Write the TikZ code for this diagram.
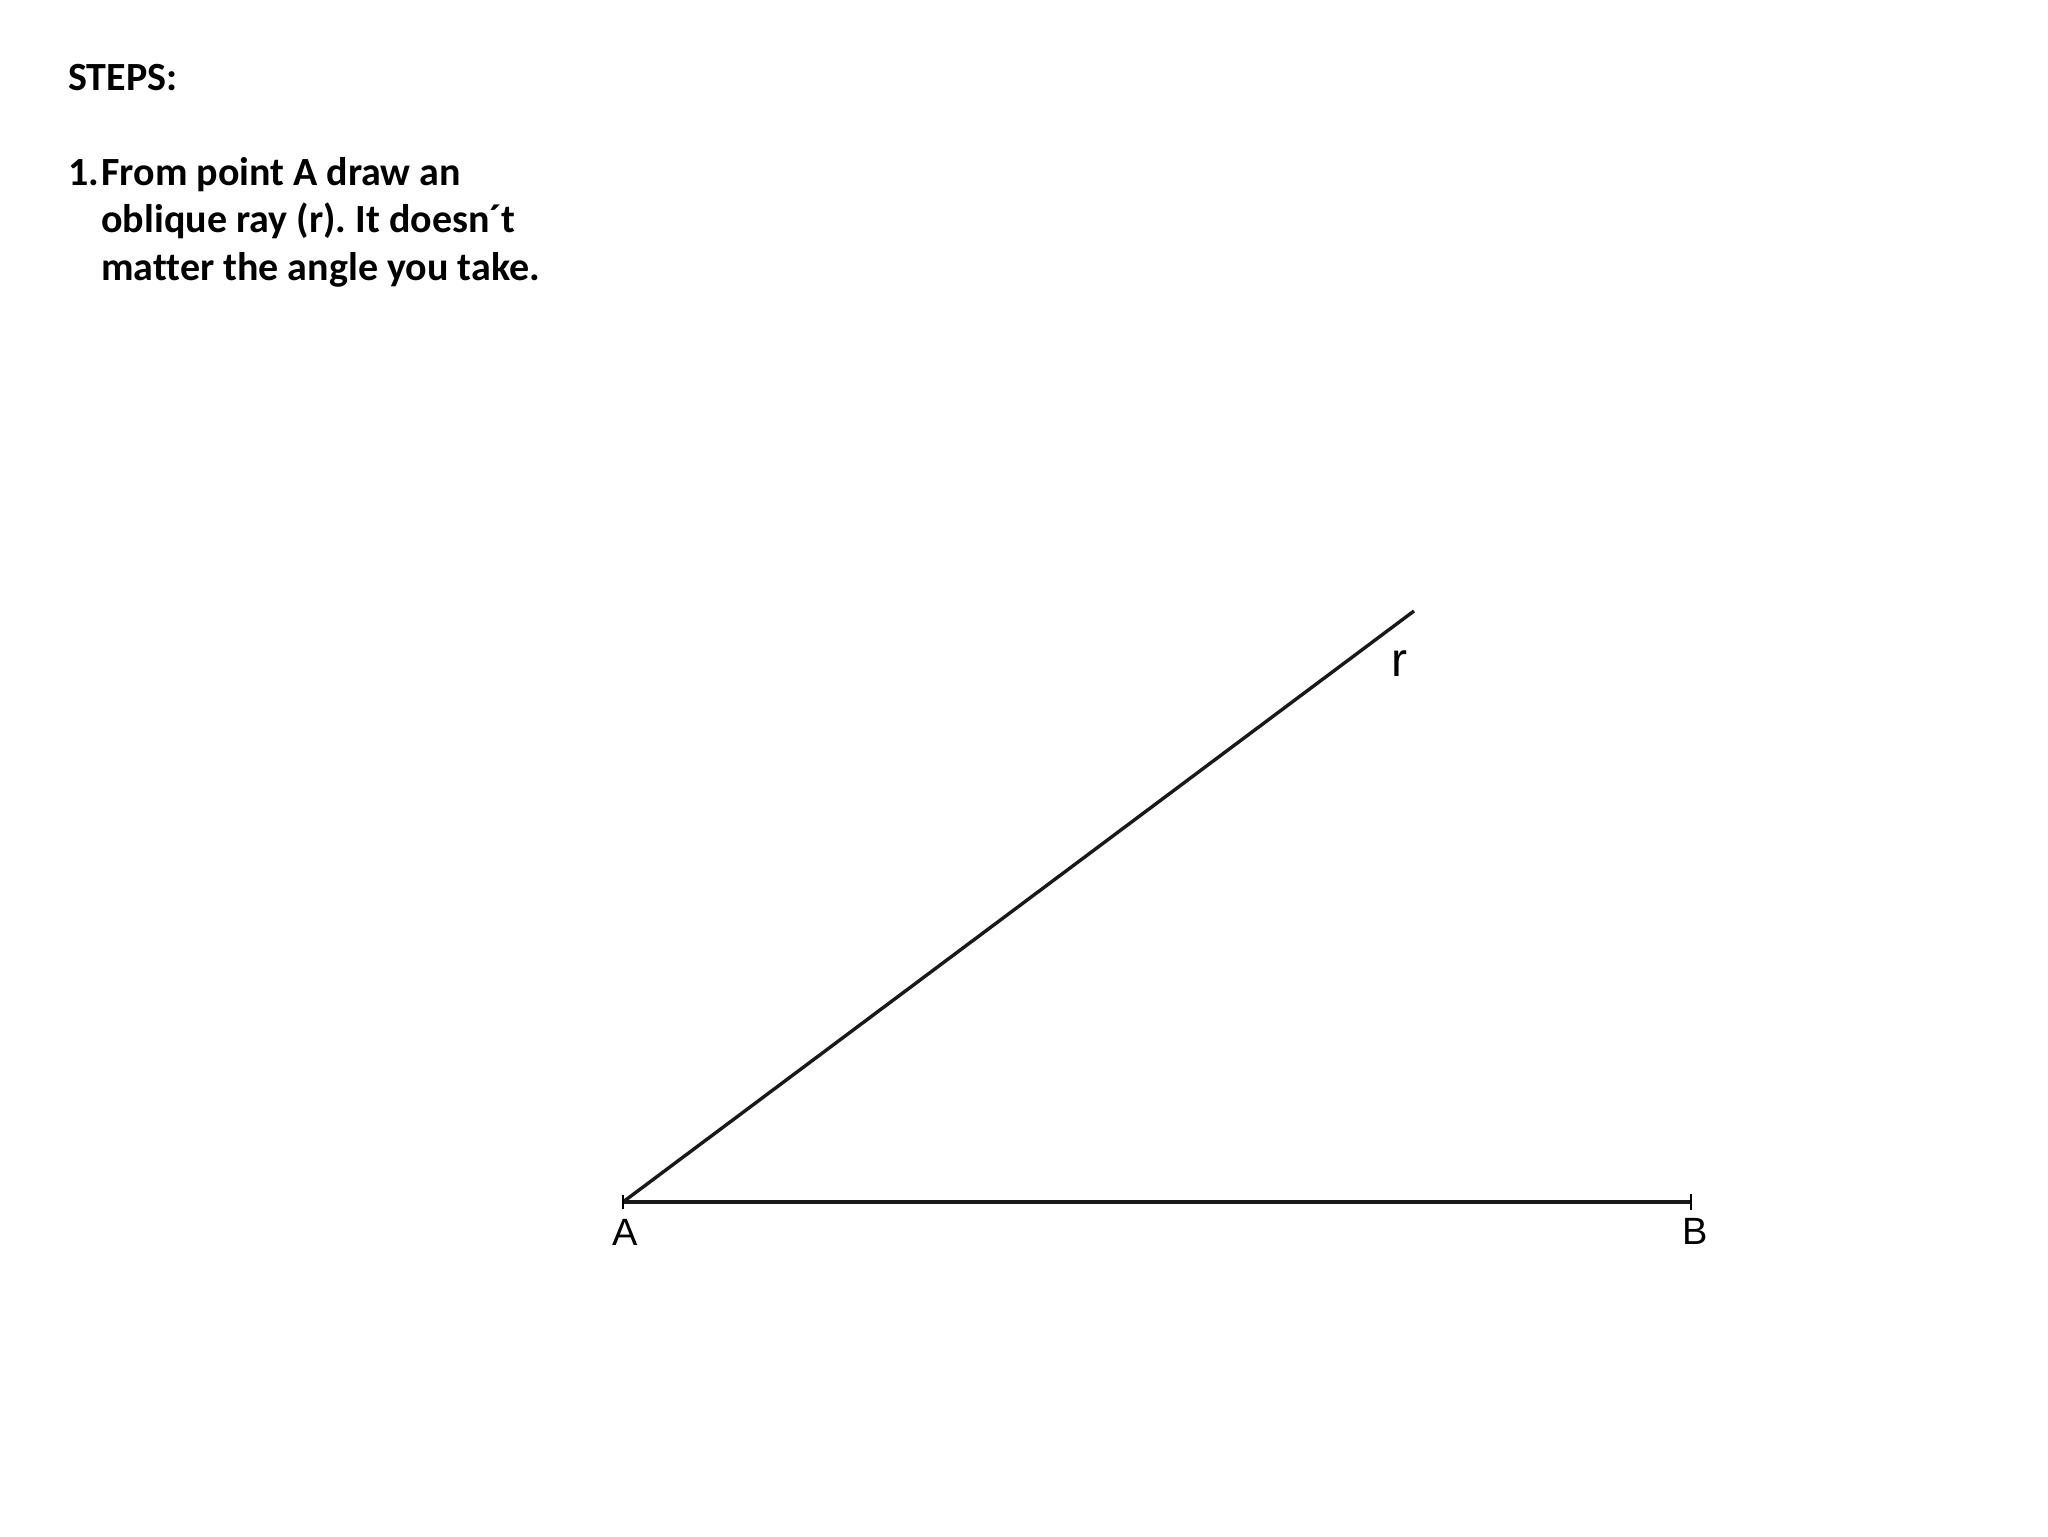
\documentclass[tikz,border=0pt]{standalone}
\usepackage{fontspec}
\setmainfont[Ligatures=NoCommon]{Carlito}
\newfontfamily\lblfont{Liberation Sans}
\frenchspacing
\begin{document}
\begin{tikzpicture}[x=0.5pt,y=0.5pt,
  steptext/.style={anchor=base west,inner sep=0pt,font=\fontsize{20}{24}\selectfont\bfseries},
  ptlabel/.style={anchor=base,inner sep=0pt,font=\lblfont\fontsize{19}{22}\selectfont},
  seg/.style={line width=1.7pt,black!90}]
\useasboundingbox (0,0) rectangle (2048,1536);
\node[steptext] (title) at (68,1445) {STEPS:};
\node[steptext] (num) at (68,1350) {1.};
\node[steptext] (l1) at (101,1350) {From point A draw an};
\node[steptext] (l2) at (101,1303) {oblique ray (r). It doesn´t};
\node[steptext] (l3) at (101,1255) {matter the angle you take.};
\coordinate (A) at (623,334);
\coordinate (B) at (1691,334);
\coordinate (R) at (1414,925);
\draw[seg] (A) -- (B);
\draw[seg] (A) -- (R);
\draw[line width=1.4pt] ([yshift=-3.5pt]A) -- ([yshift=3.5pt]A);
\draw[line width=1.4pt] ([yshift=-4pt]B) -- ([yshift=4pt]B);
\node[ptlabel] (la) at (625,291) {A};
\node[ptlabel] (lb) at (1695,292) {B};
\node[anchor=base,inner sep=0pt,font=\lblfont\fontsize{24}{28}\selectfont] (lr) at (1399,859) {r};
\end{tikzpicture}
\end{document}
